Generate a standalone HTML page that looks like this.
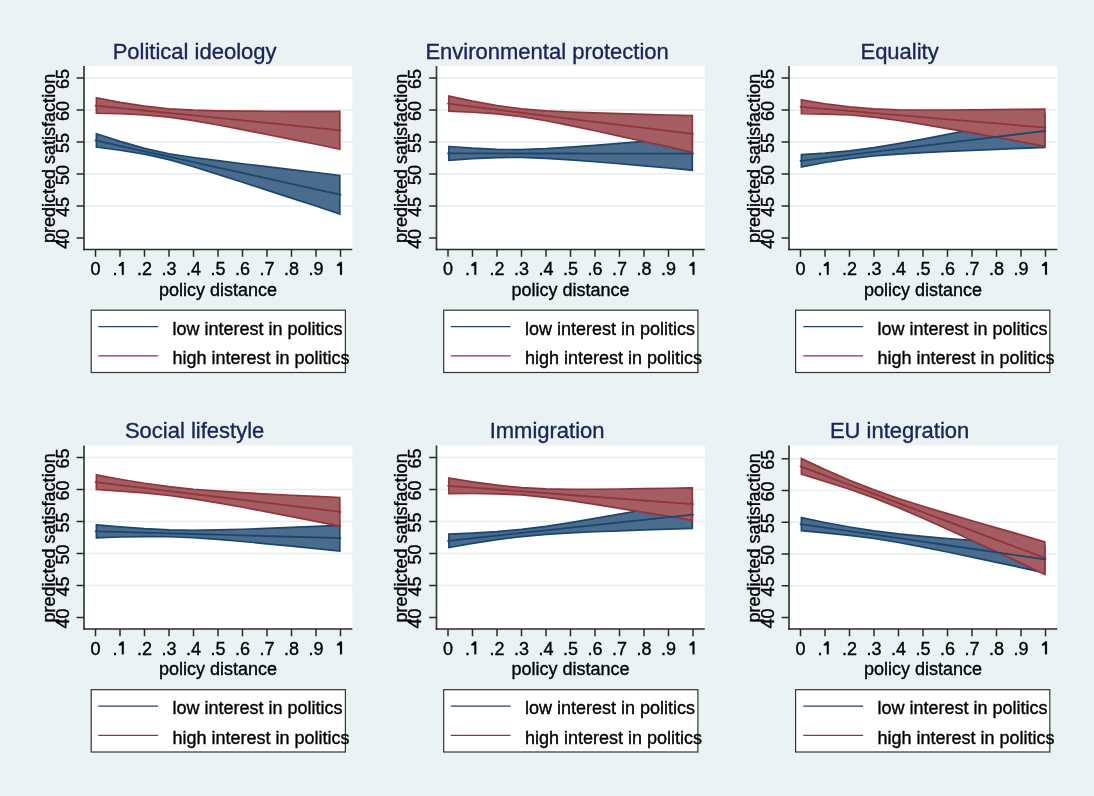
<!DOCTYPE html>
<html><head><meta charset="utf-8"><title>margins</title>
<style>
html,body{margin:0;padding:0;background:#EAF2F3;width:1094px;height:796px;overflow:hidden}
svg text{font-family:"Liberation Sans",sans-serif}
svg{will-change:transform}
.tk{font-size:18px;fill:#000;stroke:#000;stroke-width:0.35px}
.ax{font-size:18px;fill:#000;stroke:#000;stroke-width:0.35px}
.lg{font-size:18px;fill:#000;stroke:#000;stroke-width:0.35px}
.ti{font-size:22px;fill:#182559;stroke:#182559;stroke-width:0.35px}
</style></head><body>
<svg width="1094" height="796" viewBox="0 0 1094 796" style="display:block">
<rect x="0" y="0" width="1094" height="796" fill="#EAF2F3"/>
<g transform="translate(0,0)">
<rect x="84.0" y="66.0" width="268.3" height="183.5" fill="#FFFFFF"/>
<line x1="84.0" y1="206" x2="352.3" y2="206" stroke="#E6EEF0" stroke-width="1.6"/>
<line x1="84.0" y1="174" x2="352.3" y2="174" stroke="#E6EEF0" stroke-width="1.6"/>
<line x1="84.0" y1="142" x2="352.3" y2="142" stroke="#E6EEF0" stroke-width="1.6"/>
<line x1="84.0" y1="110" x2="352.3" y2="110" stroke="#E6EEF0" stroke-width="1.6"/>
<line x1="84.0" y1="78" x2="352.3" y2="78" stroke="#E6EEF0" stroke-width="1.6"/>
<polygon points="96.4,133.8 120,141.42 144.5,148.41 169,153.73 193.5,157.49 218,160.7 242.5,163.73 267,166.69 291.5,169.61 316,172.51 339.8,175.4 339.8,214 316,206.03 291.5,198.07 267,190.13 242.5,182.23 218,174.4 193.5,166.75 169,159.65 144.5,154.11 120,150.24 96.4,147" fill="#4B6C8C" stroke="#1A476F" stroke-width="1.7" stroke-linejoin="miter"/>
<polygon points="96.4,97.93 120,102.37 144.5,106.21 169,108.87 193.5,110.22 218,110.83 242.5,111.12 267,111.26 291.5,111.32 316,111.34 339.8,111.33 339.8,149.23 316,144.28 291.5,139.36 267,134.49 242.5,129.69 218,125.03 193.5,120.7 169,117.12 144.5,114.83 120,113.73 96.4,113.23" fill="#A45D62" stroke="#90353B" stroke-width="1.7" stroke-linejoin="miter"/>
<polyline points="95.5,140.4 120,145.83 144.5,151.26 169,156.69 193.5,162.12 218,167.55 242.5,172.98 267,178.41 291.5,183.84 316,189.27 340.5,194.7" fill="none" stroke="#1A476F" stroke-width="1.8" stroke-linecap="round"/>
<polyline points="95.5,105.58 120,108.05 144.5,110.52 169,112.99 193.5,115.46 218,117.93 242.5,120.4 267,122.87 291.5,125.34 316,127.81 340.5,130.28" fill="none" stroke="#90353B" stroke-width="1.8" stroke-linecap="round"/>
<line x1="84.0" y1="66.0" x2="84.0" y2="250.3" stroke="#3A3A3A" stroke-width="1.7"/>
<line x1="83.2" y1="249.5" x2="352.3" y2="249.5" stroke="#2A2A2A" stroke-width="1.7"/>
<line x1="76.6" y1="238" x2="84.0" y2="238" stroke="#2A2A2A" stroke-width="1.5"/>
<line x1="76.6" y1="206" x2="84.0" y2="206" stroke="#2A2A2A" stroke-width="1.5"/>
<line x1="76.6" y1="174" x2="84.0" y2="174" stroke="#2A2A2A" stroke-width="1.5"/>
<line x1="76.6" y1="142" x2="84.0" y2="142" stroke="#2A2A2A" stroke-width="1.5"/>
<line x1="76.6" y1="110" x2="84.0" y2="110" stroke="#2A2A2A" stroke-width="1.5"/>
<line x1="76.6" y1="78" x2="84.0" y2="78" stroke="#2A2A2A" stroke-width="1.5"/>
<line x1="95.5" y1="249.5" x2="95.5" y2="256.8" stroke="#2A2A2A" stroke-width="1.5"/>
<text x="95.5" y="275" text-anchor="middle" class="tk">0</text>
<line x1="120" y1="249.5" x2="120" y2="256.8" stroke="#2A2A2A" stroke-width="1.5"/>
<text x="112.5" y="275" class="tk">.</text>
<polygon points="121.85,274.8 121.85,265.7 119.1,266.05 118.7,265.5 118.75,264.75 121.65,262.3 122.15,262 123.73,262 123.73,274.8" fill="#000" stroke="#000" stroke-width="0.2"/>
<line x1="144.5" y1="249.5" x2="144.5" y2="256.8" stroke="#2A2A2A" stroke-width="1.5"/>
<text x="144.5" y="275" text-anchor="middle" class="tk">.2</text>
<line x1="169" y1="249.5" x2="169" y2="256.8" stroke="#2A2A2A" stroke-width="1.5"/>
<text x="169" y="275" text-anchor="middle" class="tk">.3</text>
<line x1="193.5" y1="249.5" x2="193.5" y2="256.8" stroke="#2A2A2A" stroke-width="1.5"/>
<text x="193.5" y="275" text-anchor="middle" class="tk">.4</text>
<line x1="218" y1="249.5" x2="218" y2="256.8" stroke="#2A2A2A" stroke-width="1.5"/>
<text x="218" y="275" text-anchor="middle" class="tk">.5</text>
<line x1="242.5" y1="249.5" x2="242.5" y2="256.8" stroke="#2A2A2A" stroke-width="1.5"/>
<text x="242.5" y="275" text-anchor="middle" class="tk">.6</text>
<line x1="267" y1="249.5" x2="267" y2="256.8" stroke="#2A2A2A" stroke-width="1.5"/>
<text x="267" y="275" text-anchor="middle" class="tk">.7</text>
<line x1="291.5" y1="249.5" x2="291.5" y2="256.8" stroke="#2A2A2A" stroke-width="1.5"/>
<text x="291.5" y="275" text-anchor="middle" class="tk">.8</text>
<line x1="316" y1="249.5" x2="316" y2="256.8" stroke="#2A2A2A" stroke-width="1.5"/>
<text x="316" y="275" text-anchor="middle" class="tk">.9</text>
<line x1="340.5" y1="249.5" x2="340.5" y2="256.8" stroke="#2A2A2A" stroke-width="1.5"/>
<polygon points="340.05,274.8 340.05,265.7 337.3,266.05 336.9,265.5 336.95,264.75 339.85,262.3 340.35,262 341.93,262 341.93,274.8" fill="#000" stroke="#000" stroke-width="0.2"/>
<text transform="translate(68.8,238.9) rotate(-90)" text-anchor="middle" class="tk">40</text>
<text transform="translate(68.8,206.9) rotate(-90)" text-anchor="middle" class="tk">45</text>
<text transform="translate(68.8,174.9) rotate(-90)" text-anchor="middle" class="tk">50</text>
<text transform="translate(68.8,142.9) rotate(-90)" text-anchor="middle" class="tk">55</text>
<text transform="translate(68.8,110.9) rotate(-90)" text-anchor="middle" class="tk">60</text>
<text transform="translate(68.8,78.9) rotate(-90)" text-anchor="middle" class="tk">65</text>
<text transform="translate(54.8,158.4) rotate(-90)" text-anchor="middle" class="ax">predicted satisfaction</text>
<text x="218" y="295.5" text-anchor="middle" class="ax">policy distance</text>
<text x="194.6" y="58.7" text-anchor="middle" class="ti">Political ideology</text>
<rect x="91.2" y="310.2" width="254.2" height="62.3" fill="#FFFFFF" stroke="#333" stroke-width="1.2"/>
<line x1="98.3" y1="326.6" x2="158.1" y2="326.6" stroke="#1A476F" stroke-width="1.4"/>
<line x1="98.3" y1="355.9" x2="158.1" y2="355.9" stroke="#90353B" stroke-width="1.4"/>
<text x="172.5" y="335" class="lg">low interest in politics</text>
<text x="172.5" y="364" class="lg">high interest in politics</text>
</g>
<g transform="translate(352.5,0)">
<rect x="84.0" y="66.0" width="268.3" height="183.5" fill="#FFFFFF"/>
<line x1="84.0" y1="206" x2="352.3" y2="206" stroke="#E6EEF0" stroke-width="1.6"/>
<line x1="84.0" y1="174" x2="352.3" y2="174" stroke="#E6EEF0" stroke-width="1.6"/>
<line x1="84.0" y1="142" x2="352.3" y2="142" stroke="#E6EEF0" stroke-width="1.6"/>
<line x1="84.0" y1="110" x2="352.3" y2="110" stroke="#E6EEF0" stroke-width="1.6"/>
<line x1="84.0" y1="78" x2="352.3" y2="78" stroke="#E6EEF0" stroke-width="1.6"/>
<polygon points="96.4,146.51 120,148.21 144.5,149.39 169,149.59 193.5,148.72 218,147.19 242.5,145.34 267,143.35 291.5,141.28 316,139.16 339.8,137.01 339.8,170.2 316,168.02 291.5,165.87 267,163.77 242.5,161.74 218,159.86 193.5,158.29 169,157.39 144.5,157.56 120,158.7 96.4,160.36" fill="#4B6C8C" stroke="#1A476F" stroke-width="1.7" stroke-linejoin="miter"/>
<polygon points="96.4,96.09 120,101.09 144.5,105.52 169,108.81 193.5,110.79 218,112.02 242.5,112.92 267,113.67 291.5,114.35 316,114.98 339.8,115.59 339.8,152.39 316,146.93 291.5,141.49 267,136.1 242.5,130.79 218,125.62 193.5,120.77 169,116.69 144.5,113.91 120,112.27 96.4,111.19" fill="#A45D62" stroke="#90353B" stroke-width="1.7" stroke-linejoin="miter"/>
<polyline points="95.5,153.44 120,153.46 144.5,153.47 169,153.49 193.5,153.51 218,153.52 242.5,153.54 267,153.56 291.5,153.57 316,153.59 340.5,153.61" fill="none" stroke="#1A476F" stroke-width="1.8" stroke-linecap="round"/>
<polyline points="95.5,103.64 120,106.68 144.5,109.71 169,112.75 193.5,115.78 218,118.82 242.5,121.85 267,124.89 291.5,127.92 316,130.96 340.5,133.99" fill="none" stroke="#90353B" stroke-width="1.8" stroke-linecap="round"/>
<line x1="84.0" y1="66.0" x2="84.0" y2="250.3" stroke="#3A3A3A" stroke-width="1.7"/>
<line x1="83.2" y1="249.5" x2="352.3" y2="249.5" stroke="#2A2A2A" stroke-width="1.7"/>
<line x1="76.6" y1="238" x2="84.0" y2="238" stroke="#2A2A2A" stroke-width="1.5"/>
<line x1="76.6" y1="206" x2="84.0" y2="206" stroke="#2A2A2A" stroke-width="1.5"/>
<line x1="76.6" y1="174" x2="84.0" y2="174" stroke="#2A2A2A" stroke-width="1.5"/>
<line x1="76.6" y1="142" x2="84.0" y2="142" stroke="#2A2A2A" stroke-width="1.5"/>
<line x1="76.6" y1="110" x2="84.0" y2="110" stroke="#2A2A2A" stroke-width="1.5"/>
<line x1="76.6" y1="78" x2="84.0" y2="78" stroke="#2A2A2A" stroke-width="1.5"/>
<line x1="95.5" y1="249.5" x2="95.5" y2="256.8" stroke="#2A2A2A" stroke-width="1.5"/>
<text x="95.5" y="275" text-anchor="middle" class="tk">0</text>
<line x1="120" y1="249.5" x2="120" y2="256.8" stroke="#2A2A2A" stroke-width="1.5"/>
<text x="112.5" y="275" class="tk">.</text>
<polygon points="121.85,274.8 121.85,265.7 119.1,266.05 118.7,265.5 118.75,264.75 121.65,262.3 122.15,262 123.73,262 123.73,274.8" fill="#000" stroke="#000" stroke-width="0.2"/>
<line x1="144.5" y1="249.5" x2="144.5" y2="256.8" stroke="#2A2A2A" stroke-width="1.5"/>
<text x="144.5" y="275" text-anchor="middle" class="tk">.2</text>
<line x1="169" y1="249.5" x2="169" y2="256.8" stroke="#2A2A2A" stroke-width="1.5"/>
<text x="169" y="275" text-anchor="middle" class="tk">.3</text>
<line x1="193.5" y1="249.5" x2="193.5" y2="256.8" stroke="#2A2A2A" stroke-width="1.5"/>
<text x="193.5" y="275" text-anchor="middle" class="tk">.4</text>
<line x1="218" y1="249.5" x2="218" y2="256.8" stroke="#2A2A2A" stroke-width="1.5"/>
<text x="218" y="275" text-anchor="middle" class="tk">.5</text>
<line x1="242.5" y1="249.5" x2="242.5" y2="256.8" stroke="#2A2A2A" stroke-width="1.5"/>
<text x="242.5" y="275" text-anchor="middle" class="tk">.6</text>
<line x1="267" y1="249.5" x2="267" y2="256.8" stroke="#2A2A2A" stroke-width="1.5"/>
<text x="267" y="275" text-anchor="middle" class="tk">.7</text>
<line x1="291.5" y1="249.5" x2="291.5" y2="256.8" stroke="#2A2A2A" stroke-width="1.5"/>
<text x="291.5" y="275" text-anchor="middle" class="tk">.8</text>
<line x1="316" y1="249.5" x2="316" y2="256.8" stroke="#2A2A2A" stroke-width="1.5"/>
<text x="316" y="275" text-anchor="middle" class="tk">.9</text>
<line x1="340.5" y1="249.5" x2="340.5" y2="256.8" stroke="#2A2A2A" stroke-width="1.5"/>
<polygon points="340.05,274.8 340.05,265.7 337.3,266.05 336.9,265.5 336.95,264.75 339.85,262.3 340.35,262 341.93,262 341.93,274.8" fill="#000" stroke="#000" stroke-width="0.2"/>
<text transform="translate(68.8,238.9) rotate(-90)" text-anchor="middle" class="tk">40</text>
<text transform="translate(68.8,206.9) rotate(-90)" text-anchor="middle" class="tk">45</text>
<text transform="translate(68.8,174.9) rotate(-90)" text-anchor="middle" class="tk">50</text>
<text transform="translate(68.8,142.9) rotate(-90)" text-anchor="middle" class="tk">55</text>
<text transform="translate(68.8,110.9) rotate(-90)" text-anchor="middle" class="tk">60</text>
<text transform="translate(68.8,78.9) rotate(-90)" text-anchor="middle" class="tk">65</text>
<text transform="translate(54.8,158.4) rotate(-90)" text-anchor="middle" class="ax">predicted satisfaction</text>
<text x="218" y="295.5" text-anchor="middle" class="ax">policy distance</text>
<text x="194.6" y="58.7" text-anchor="middle" class="ti">Environmental protection</text>
<rect x="91.2" y="310.2" width="254.2" height="62.3" fill="#FFFFFF" stroke="#333" stroke-width="1.2"/>
<line x1="98.3" y1="326.6" x2="158.1" y2="326.6" stroke="#1A476F" stroke-width="1.4"/>
<line x1="98.3" y1="355.9" x2="158.1" y2="355.9" stroke="#90353B" stroke-width="1.4"/>
<text x="172.5" y="335" class="lg">low interest in politics</text>
<text x="172.5" y="364" class="lg">high interest in politics</text>
</g>
<g transform="translate(705,0)">
<rect x="84.0" y="66.0" width="268.3" height="183.5" fill="#FFFFFF"/>
<line x1="84.0" y1="206" x2="352.3" y2="206" stroke="#E6EEF0" stroke-width="1.6"/>
<line x1="84.0" y1="174" x2="352.3" y2="174" stroke="#E6EEF0" stroke-width="1.6"/>
<line x1="84.0" y1="142" x2="352.3" y2="142" stroke="#E6EEF0" stroke-width="1.6"/>
<line x1="84.0" y1="110" x2="352.3" y2="110" stroke="#E6EEF0" stroke-width="1.6"/>
<line x1="84.0" y1="78" x2="352.3" y2="78" stroke="#E6EEF0" stroke-width="1.6"/>
<polygon points="96.4,154.7 120,153.11 144.5,150.89 169,147.7 193.5,143.65 218,139.1 242.5,134.32 267,129.41 291.5,124.44 316,119.44 339.8,114.4 339.8,147.4 316,148.34 291.5,149.32 267,150.33 242.5,151.4 218,152.6 193.5,154.03 169,155.96 144.5,158.75 120,162.51 96.4,166.9" fill="#4B6C8C" stroke="#1A476F" stroke-width="1.7" stroke-linejoin="miter"/>
<polygon points="96.4,99.84 120,103.73 144.5,106.94 169,108.94 193.5,109.78 218,110.02 242.5,109.98 267,109.82 291.5,109.6 316,109.33 339.8,109.04 339.8,146.24 316,141.78 291.5,137.35 267,132.95 242.5,128.62 218,124.42 193.5,120.48 169,117.15 144.5,114.99 120,114.03 96.4,113.74" fill="#A45D62" stroke="#90353B" stroke-width="1.7" stroke-linejoin="miter"/>
<polyline points="95.5,160.8 120,157.81 144.5,154.82 169,151.83 193.5,148.84 218,145.85 242.5,142.86 267,139.87 291.5,136.88 316,133.89 340.5,130.9" fill="none" stroke="#1A476F" stroke-width="1.8" stroke-linecap="round"/>
<polyline points="95.5,106.79 120,108.88 144.5,110.96 169,113.05 193.5,115.13 218,117.22 242.5,119.3 267,121.39 291.5,123.47 316,125.56 340.5,127.64" fill="none" stroke="#90353B" stroke-width="1.8" stroke-linecap="round"/>
<line x1="84.0" y1="66.0" x2="84.0" y2="250.3" stroke="#3A3A3A" stroke-width="1.7"/>
<line x1="83.2" y1="249.5" x2="352.3" y2="249.5" stroke="#2A2A2A" stroke-width="1.7"/>
<line x1="76.6" y1="238" x2="84.0" y2="238" stroke="#2A2A2A" stroke-width="1.5"/>
<line x1="76.6" y1="206" x2="84.0" y2="206" stroke="#2A2A2A" stroke-width="1.5"/>
<line x1="76.6" y1="174" x2="84.0" y2="174" stroke="#2A2A2A" stroke-width="1.5"/>
<line x1="76.6" y1="142" x2="84.0" y2="142" stroke="#2A2A2A" stroke-width="1.5"/>
<line x1="76.6" y1="110" x2="84.0" y2="110" stroke="#2A2A2A" stroke-width="1.5"/>
<line x1="76.6" y1="78" x2="84.0" y2="78" stroke="#2A2A2A" stroke-width="1.5"/>
<line x1="95.5" y1="249.5" x2="95.5" y2="256.8" stroke="#2A2A2A" stroke-width="1.5"/>
<text x="95.5" y="275" text-anchor="middle" class="tk">0</text>
<line x1="120" y1="249.5" x2="120" y2="256.8" stroke="#2A2A2A" stroke-width="1.5"/>
<text x="112.5" y="275" class="tk">.</text>
<polygon points="121.85,274.8 121.85,265.7 119.1,266.05 118.7,265.5 118.75,264.75 121.65,262.3 122.15,262 123.73,262 123.73,274.8" fill="#000" stroke="#000" stroke-width="0.2"/>
<line x1="144.5" y1="249.5" x2="144.5" y2="256.8" stroke="#2A2A2A" stroke-width="1.5"/>
<text x="144.5" y="275" text-anchor="middle" class="tk">.2</text>
<line x1="169" y1="249.5" x2="169" y2="256.8" stroke="#2A2A2A" stroke-width="1.5"/>
<text x="169" y="275" text-anchor="middle" class="tk">.3</text>
<line x1="193.5" y1="249.5" x2="193.5" y2="256.8" stroke="#2A2A2A" stroke-width="1.5"/>
<text x="193.5" y="275" text-anchor="middle" class="tk">.4</text>
<line x1="218" y1="249.5" x2="218" y2="256.8" stroke="#2A2A2A" stroke-width="1.5"/>
<text x="218" y="275" text-anchor="middle" class="tk">.5</text>
<line x1="242.5" y1="249.5" x2="242.5" y2="256.8" stroke="#2A2A2A" stroke-width="1.5"/>
<text x="242.5" y="275" text-anchor="middle" class="tk">.6</text>
<line x1="267" y1="249.5" x2="267" y2="256.8" stroke="#2A2A2A" stroke-width="1.5"/>
<text x="267" y="275" text-anchor="middle" class="tk">.7</text>
<line x1="291.5" y1="249.5" x2="291.5" y2="256.8" stroke="#2A2A2A" stroke-width="1.5"/>
<text x="291.5" y="275" text-anchor="middle" class="tk">.8</text>
<line x1="316" y1="249.5" x2="316" y2="256.8" stroke="#2A2A2A" stroke-width="1.5"/>
<text x="316" y="275" text-anchor="middle" class="tk">.9</text>
<line x1="340.5" y1="249.5" x2="340.5" y2="256.8" stroke="#2A2A2A" stroke-width="1.5"/>
<polygon points="340.05,274.8 340.05,265.7 337.3,266.05 336.9,265.5 336.95,264.75 339.85,262.3 340.35,262 341.93,262 341.93,274.8" fill="#000" stroke="#000" stroke-width="0.2"/>
<text transform="translate(68.8,238.9) rotate(-90)" text-anchor="middle" class="tk">40</text>
<text transform="translate(68.8,206.9) rotate(-90)" text-anchor="middle" class="tk">45</text>
<text transform="translate(68.8,174.9) rotate(-90)" text-anchor="middle" class="tk">50</text>
<text transform="translate(68.8,142.9) rotate(-90)" text-anchor="middle" class="tk">55</text>
<text transform="translate(68.8,110.9) rotate(-90)" text-anchor="middle" class="tk">60</text>
<text transform="translate(68.8,78.9) rotate(-90)" text-anchor="middle" class="tk">65</text>
<text transform="translate(54.8,158.4) rotate(-90)" text-anchor="middle" class="ax">predicted satisfaction</text>
<text x="218" y="295.5" text-anchor="middle" class="ax">policy distance</text>
<text x="194.6" y="58.7" text-anchor="middle" class="ti">Equality</text>
<rect x="90.60000000000001" y="310.2" width="254.2" height="62.3" fill="#FFFFFF" stroke="#333" stroke-width="1.2"/>
<line x1="98.3" y1="326.6" x2="158.1" y2="326.6" stroke="#1A476F" stroke-width="1.4"/>
<line x1="98.3" y1="355.9" x2="158.1" y2="355.9" stroke="#90353B" stroke-width="1.4"/>
<text x="172.5" y="335" class="lg">low interest in politics</text>
<text x="172.5" y="364" class="lg">high interest in politics</text>
</g>
<g transform="translate(0,379.5)">
<rect x="84.0" y="66.0" width="268.3" height="183.5" fill="#FFFFFF"/>
<line x1="84.0" y1="206" x2="352.3" y2="206" stroke="#E6EEF0" stroke-width="1.6"/>
<line x1="84.0" y1="174" x2="352.3" y2="174" stroke="#E6EEF0" stroke-width="1.6"/>
<line x1="84.0" y1="142" x2="352.3" y2="142" stroke="#E6EEF0" stroke-width="1.6"/>
<line x1="84.0" y1="110" x2="352.3" y2="110" stroke="#E6EEF0" stroke-width="1.6"/>
<line x1="84.0" y1="78" x2="352.3" y2="78" stroke="#E6EEF0" stroke-width="1.6"/>
<polygon points="96.4,145.28 120,147.4 144.5,149.21 169,150.42 193.5,150.78 218,150.45 242.5,149.75 267,148.86 291.5,147.88 316,146.84 339.8,145.78 339.8,171.48 316,169.04 291.5,166.63 267,164.28 242.5,162.02 218,159.95 193.5,158.25 169,157.24 144.5,157.08 120,157.52 96.4,158.28" fill="#4B6C8C" stroke="#1A476F" stroke-width="1.7" stroke-linejoin="miter"/>
<polygon points="96.4,95.37 120,99.76 144.5,103.77 169,107.14 193.5,109.73 218,111.66 242.5,113.2 267,114.53 291.5,115.74 316,116.88 339.8,117.97 339.8,146.67 316,141.84 291.5,137.05 267,132.34 242.5,127.74 218,123.36 193.5,119.37 169,116.02 144.5,113.47 120,111.55 96.4,110.02" fill="#A45D62" stroke="#90353B" stroke-width="1.7" stroke-linejoin="miter"/>
<polyline points="95.5,151.78 120,152.46 144.5,153.15 169,153.83 193.5,154.52 218,155.2 242.5,155.89 267,156.57 291.5,157.26 316,157.94 340.5,158.63" fill="none" stroke="#1A476F" stroke-width="1.8" stroke-linecap="round"/>
<polyline points="95.5,102.7 120,105.66 144.5,108.62 169,111.58 193.5,114.55 218,117.51 242.5,120.47 267,123.43 291.5,126.4 316,129.36 340.5,132.32" fill="none" stroke="#90353B" stroke-width="1.8" stroke-linecap="round"/>
<line x1="84.0" y1="66.0" x2="84.0" y2="250.3" stroke="#3A3A3A" stroke-width="1.7"/>
<line x1="83.2" y1="249.5" x2="352.3" y2="249.5" stroke="#2A2A2A" stroke-width="1.7"/>
<line x1="76.6" y1="238" x2="84.0" y2="238" stroke="#2A2A2A" stroke-width="1.5"/>
<line x1="76.6" y1="206" x2="84.0" y2="206" stroke="#2A2A2A" stroke-width="1.5"/>
<line x1="76.6" y1="174" x2="84.0" y2="174" stroke="#2A2A2A" stroke-width="1.5"/>
<line x1="76.6" y1="142" x2="84.0" y2="142" stroke="#2A2A2A" stroke-width="1.5"/>
<line x1="76.6" y1="110" x2="84.0" y2="110" stroke="#2A2A2A" stroke-width="1.5"/>
<line x1="76.6" y1="78" x2="84.0" y2="78" stroke="#2A2A2A" stroke-width="1.5"/>
<line x1="95.5" y1="249.5" x2="95.5" y2="256.8" stroke="#2A2A2A" stroke-width="1.5"/>
<text x="95.5" y="275" text-anchor="middle" class="tk">0</text>
<line x1="120" y1="249.5" x2="120" y2="256.8" stroke="#2A2A2A" stroke-width="1.5"/>
<text x="112.5" y="275" class="tk">.</text>
<polygon points="121.85,274.8 121.85,265.7 119.1,266.05 118.7,265.5 118.75,264.75 121.65,262.3 122.15,262 123.73,262 123.73,274.8" fill="#000" stroke="#000" stroke-width="0.2"/>
<line x1="144.5" y1="249.5" x2="144.5" y2="256.8" stroke="#2A2A2A" stroke-width="1.5"/>
<text x="144.5" y="275" text-anchor="middle" class="tk">.2</text>
<line x1="169" y1="249.5" x2="169" y2="256.8" stroke="#2A2A2A" stroke-width="1.5"/>
<text x="169" y="275" text-anchor="middle" class="tk">.3</text>
<line x1="193.5" y1="249.5" x2="193.5" y2="256.8" stroke="#2A2A2A" stroke-width="1.5"/>
<text x="193.5" y="275" text-anchor="middle" class="tk">.4</text>
<line x1="218" y1="249.5" x2="218" y2="256.8" stroke="#2A2A2A" stroke-width="1.5"/>
<text x="218" y="275" text-anchor="middle" class="tk">.5</text>
<line x1="242.5" y1="249.5" x2="242.5" y2="256.8" stroke="#2A2A2A" stroke-width="1.5"/>
<text x="242.5" y="275" text-anchor="middle" class="tk">.6</text>
<line x1="267" y1="249.5" x2="267" y2="256.8" stroke="#2A2A2A" stroke-width="1.5"/>
<text x="267" y="275" text-anchor="middle" class="tk">.7</text>
<line x1="291.5" y1="249.5" x2="291.5" y2="256.8" stroke="#2A2A2A" stroke-width="1.5"/>
<text x="291.5" y="275" text-anchor="middle" class="tk">.8</text>
<line x1="316" y1="249.5" x2="316" y2="256.8" stroke="#2A2A2A" stroke-width="1.5"/>
<text x="316" y="275" text-anchor="middle" class="tk">.9</text>
<line x1="340.5" y1="249.5" x2="340.5" y2="256.8" stroke="#2A2A2A" stroke-width="1.5"/>
<polygon points="340.05,274.8 340.05,265.7 337.3,266.05 336.9,265.5 336.95,264.75 339.85,262.3 340.35,262 341.93,262 341.93,274.8" fill="#000" stroke="#000" stroke-width="0.2"/>
<text transform="translate(68.8,238.9) rotate(-90)" text-anchor="middle" class="tk">40</text>
<text transform="translate(68.8,206.9) rotate(-90)" text-anchor="middle" class="tk">45</text>
<text transform="translate(68.8,174.9) rotate(-90)" text-anchor="middle" class="tk">50</text>
<text transform="translate(68.8,142.9) rotate(-90)" text-anchor="middle" class="tk">55</text>
<text transform="translate(68.8,110.9) rotate(-90)" text-anchor="middle" class="tk">60</text>
<text transform="translate(68.8,78.9) rotate(-90)" text-anchor="middle" class="tk">65</text>
<text transform="translate(54.8,158.4) rotate(-90)" text-anchor="middle" class="ax">predicted satisfaction</text>
<text x="218" y="295.5" text-anchor="middle" class="ax">policy distance</text>
<text x="194.6" y="58.7" text-anchor="middle" class="ti">Social lifestyle</text>
<rect x="91.2" y="310.2" width="254.2" height="62.3" fill="#FFFFFF" stroke="#333" stroke-width="1.2"/>
<line x1="98.3" y1="326.6" x2="158.1" y2="326.6" stroke="#1A476F" stroke-width="1.4"/>
<line x1="98.3" y1="355.9" x2="158.1" y2="355.9" stroke="#90353B" stroke-width="1.4"/>
<text x="172.5" y="334" class="lg">low interest in politics</text>
<text x="172.5" y="364" class="lg">high interest in politics</text>
</g>
<g transform="translate(352.5,379.5)">
<rect x="84.0" y="66.0" width="268.3" height="183.5" fill="#FFFFFF"/>
<line x1="84.0" y1="206" x2="352.3" y2="206" stroke="#E6EEF0" stroke-width="1.6"/>
<line x1="84.0" y1="174" x2="352.3" y2="174" stroke="#E6EEF0" stroke-width="1.6"/>
<line x1="84.0" y1="142" x2="352.3" y2="142" stroke="#E6EEF0" stroke-width="1.6"/>
<line x1="84.0" y1="110" x2="352.3" y2="110" stroke="#E6EEF0" stroke-width="1.6"/>
<line x1="84.0" y1="78" x2="352.3" y2="78" stroke="#E6EEF0" stroke-width="1.6"/>
<polygon points="96.4,154.67 120,153.55 144.5,152.07 169,149.9 193.5,146.83 218,143.07 242.5,138.93 267,134.62 291.5,130.22 316,125.76 339.8,121.27 339.8,148.87 316,149.64 291.5,150.44 267,151.29 242.5,152.24 218,153.37 193.5,154.86 169,157.05 144.5,160.15 120,163.93 96.4,168.07" fill="#4B6C8C" stroke="#1A476F" stroke-width="1.7" stroke-linejoin="miter"/>
<polygon points="96.4,98.56 120,102.31 144.5,105.66 169,108.17 193.5,109.42 218,109.78 242.5,109.73 267,109.48 291.5,109.15 316,108.77 339.8,108.36 339.8,140.96 316,136.88 291.5,132.82 267,128.82 242.5,124.91 218,121.18 193.5,117.87 169,115.46 144.5,114.29 120,113.98 96.4,114.06" fill="#A45D62" stroke="#90353B" stroke-width="1.7" stroke-linejoin="miter"/>
<polyline points="95.5,161.37 120,158.74 144.5,156.11 169,153.48 193.5,150.85 218,148.22 242.5,145.59 267,142.96 291.5,140.33 316,137.7 340.5,135.07" fill="none" stroke="#1A476F" stroke-width="1.8" stroke-linecap="round"/>
<polyline points="95.5,106.31 120,108.14 144.5,109.98 169,111.81 193.5,113.65 218,115.48 242.5,117.32 267,119.15 291.5,120.99 316,122.82 340.5,124.66" fill="none" stroke="#90353B" stroke-width="1.8" stroke-linecap="round"/>
<line x1="84.0" y1="66.0" x2="84.0" y2="250.3" stroke="#3A3A3A" stroke-width="1.7"/>
<line x1="83.2" y1="249.5" x2="352.3" y2="249.5" stroke="#2A2A2A" stroke-width="1.7"/>
<line x1="76.6" y1="238" x2="84.0" y2="238" stroke="#2A2A2A" stroke-width="1.5"/>
<line x1="76.6" y1="206" x2="84.0" y2="206" stroke="#2A2A2A" stroke-width="1.5"/>
<line x1="76.6" y1="174" x2="84.0" y2="174" stroke="#2A2A2A" stroke-width="1.5"/>
<line x1="76.6" y1="142" x2="84.0" y2="142" stroke="#2A2A2A" stroke-width="1.5"/>
<line x1="76.6" y1="110" x2="84.0" y2="110" stroke="#2A2A2A" stroke-width="1.5"/>
<line x1="76.6" y1="78" x2="84.0" y2="78" stroke="#2A2A2A" stroke-width="1.5"/>
<line x1="95.5" y1="249.5" x2="95.5" y2="256.8" stroke="#2A2A2A" stroke-width="1.5"/>
<text x="95.5" y="275" text-anchor="middle" class="tk">0</text>
<line x1="120" y1="249.5" x2="120" y2="256.8" stroke="#2A2A2A" stroke-width="1.5"/>
<text x="112.5" y="275" class="tk">.</text>
<polygon points="121.85,274.8 121.85,265.7 119.1,266.05 118.7,265.5 118.75,264.75 121.65,262.3 122.15,262 123.73,262 123.73,274.8" fill="#000" stroke="#000" stroke-width="0.2"/>
<line x1="144.5" y1="249.5" x2="144.5" y2="256.8" stroke="#2A2A2A" stroke-width="1.5"/>
<text x="144.5" y="275" text-anchor="middle" class="tk">.2</text>
<line x1="169" y1="249.5" x2="169" y2="256.8" stroke="#2A2A2A" stroke-width="1.5"/>
<text x="169" y="275" text-anchor="middle" class="tk">.3</text>
<line x1="193.5" y1="249.5" x2="193.5" y2="256.8" stroke="#2A2A2A" stroke-width="1.5"/>
<text x="193.5" y="275" text-anchor="middle" class="tk">.4</text>
<line x1="218" y1="249.5" x2="218" y2="256.8" stroke="#2A2A2A" stroke-width="1.5"/>
<text x="218" y="275" text-anchor="middle" class="tk">.5</text>
<line x1="242.5" y1="249.5" x2="242.5" y2="256.8" stroke="#2A2A2A" stroke-width="1.5"/>
<text x="242.5" y="275" text-anchor="middle" class="tk">.6</text>
<line x1="267" y1="249.5" x2="267" y2="256.8" stroke="#2A2A2A" stroke-width="1.5"/>
<text x="267" y="275" text-anchor="middle" class="tk">.7</text>
<line x1="291.5" y1="249.5" x2="291.5" y2="256.8" stroke="#2A2A2A" stroke-width="1.5"/>
<text x="291.5" y="275" text-anchor="middle" class="tk">.8</text>
<line x1="316" y1="249.5" x2="316" y2="256.8" stroke="#2A2A2A" stroke-width="1.5"/>
<text x="316" y="275" text-anchor="middle" class="tk">.9</text>
<line x1="340.5" y1="249.5" x2="340.5" y2="256.8" stroke="#2A2A2A" stroke-width="1.5"/>
<polygon points="340.05,274.8 340.05,265.7 337.3,266.05 336.9,265.5 336.95,264.75 339.85,262.3 340.35,262 341.93,262 341.93,274.8" fill="#000" stroke="#000" stroke-width="0.2"/>
<text transform="translate(68.8,238.9) rotate(-90)" text-anchor="middle" class="tk">40</text>
<text transform="translate(68.8,206.9) rotate(-90)" text-anchor="middle" class="tk">45</text>
<text transform="translate(68.8,174.9) rotate(-90)" text-anchor="middle" class="tk">50</text>
<text transform="translate(68.8,142.9) rotate(-90)" text-anchor="middle" class="tk">55</text>
<text transform="translate(68.8,110.9) rotate(-90)" text-anchor="middle" class="tk">60</text>
<text transform="translate(68.8,78.9) rotate(-90)" text-anchor="middle" class="tk">65</text>
<text transform="translate(54.8,158.4) rotate(-90)" text-anchor="middle" class="ax">predicted satisfaction</text>
<text x="218" y="295.5" text-anchor="middle" class="ax">policy distance</text>
<text x="194.6" y="58.7" text-anchor="middle" class="ti">Immigration</text>
<rect x="91.2" y="310.2" width="254.2" height="62.3" fill="#FFFFFF" stroke="#333" stroke-width="1.2"/>
<line x1="98.3" y1="326.6" x2="158.1" y2="326.6" stroke="#1A476F" stroke-width="1.4"/>
<line x1="98.3" y1="355.9" x2="158.1" y2="355.9" stroke="#90353B" stroke-width="1.4"/>
<text x="172.5" y="334" class="lg">low interest in politics</text>
<text x="172.5" y="364" class="lg">high interest in politics</text>
</g>
<g transform="translate(705,379.5)">
<rect x="84.0" y="66.0" width="268.3" height="183.5" fill="#FFFFFF"/>
<line x1="84.0" y1="206.25" x2="352.3" y2="206.25" stroke="#E6EEF0" stroke-width="1.6"/>
<line x1="84.0" y1="174.5" x2="352.3" y2="174.5" stroke="#E6EEF0" stroke-width="1.6"/>
<line x1="84.0" y1="142.75" x2="352.3" y2="142.75" stroke="#E6EEF0" stroke-width="1.6"/>
<line x1="84.0" y1="111" x2="352.3" y2="111" stroke="#E6EEF0" stroke-width="1.6"/>
<line x1="84.0" y1="79.25" x2="352.3" y2="79.25" stroke="#E6EEF0" stroke-width="1.6"/>
<polygon points="96.4,138.11 120,143.01 144.5,147.52 169,151.39 193.5,154.44 218,156.88 242.5,158.98 267,160.9 291.5,162.72 316,164.48 339.8,166.21 339.8,193.41 316,188.11 291.5,182.84 267,177.63 242.5,172.52 218,167.58 193.5,162.99 169,159.02 144.5,155.85 120,153.34 96.4,151.21" fill="#4B6C8C" stroke="#1A476F" stroke-width="1.7" stroke-linejoin="miter"/>
<polygon points="96.4,79.12 120,90.11 144.5,100.68 169,110.41 193.5,119 218,126.77 242.5,134.12 267,141.28 291.5,148.34 316,155.35 339.8,162.32 339.8,195.02 316,183.63 291.5,172.27 267,160.97 242.5,149.77 218,138.77 193.5,128.17 169,118.4 144.5,109.77 120,101.98 96.4,94.62" fill="#A45D62" stroke="#90353B" stroke-width="1.7" stroke-linejoin="miter"/>
<polyline points="95.5,144.66 120,148.17 144.5,151.69 169,155.2 193.5,158.72 218,162.23 242.5,165.75 267,169.26 291.5,172.78 316,176.29 340.5,179.81" fill="none" stroke="#1A476F" stroke-width="1.8" stroke-linecap="round"/>
<polyline points="95.5,86.87 120,96.05 144.5,105.23 169,114.41 193.5,123.59 218,132.77 242.5,141.95 267,151.13 291.5,160.31 316,169.49 340.5,178.67" fill="none" stroke="#90353B" stroke-width="1.8" stroke-linecap="round"/>
<line x1="84.0" y1="66.0" x2="84.0" y2="250.3" stroke="#3A3A3A" stroke-width="1.7"/>
<line x1="83.2" y1="249.5" x2="352.3" y2="249.5" stroke="#2A2A2A" stroke-width="1.7"/>
<line x1="76.6" y1="238" x2="84.0" y2="238" stroke="#2A2A2A" stroke-width="1.5"/>
<line x1="76.6" y1="206.25" x2="84.0" y2="206.25" stroke="#2A2A2A" stroke-width="1.5"/>
<line x1="76.6" y1="174.5" x2="84.0" y2="174.5" stroke="#2A2A2A" stroke-width="1.5"/>
<line x1="76.6" y1="142.75" x2="84.0" y2="142.75" stroke="#2A2A2A" stroke-width="1.5"/>
<line x1="76.6" y1="111" x2="84.0" y2="111" stroke="#2A2A2A" stroke-width="1.5"/>
<line x1="76.6" y1="79.25" x2="84.0" y2="79.25" stroke="#2A2A2A" stroke-width="1.5"/>
<line x1="95.5" y1="249.5" x2="95.5" y2="256.8" stroke="#2A2A2A" stroke-width="1.5"/>
<text x="95.5" y="275" text-anchor="middle" class="tk">0</text>
<line x1="120" y1="249.5" x2="120" y2="256.8" stroke="#2A2A2A" stroke-width="1.5"/>
<text x="112.5" y="275" class="tk">.</text>
<polygon points="121.85,274.8 121.85,265.7 119.1,266.05 118.7,265.5 118.75,264.75 121.65,262.3 122.15,262 123.73,262 123.73,274.8" fill="#000" stroke="#000" stroke-width="0.2"/>
<line x1="144.5" y1="249.5" x2="144.5" y2="256.8" stroke="#2A2A2A" stroke-width="1.5"/>
<text x="144.5" y="275" text-anchor="middle" class="tk">.2</text>
<line x1="169" y1="249.5" x2="169" y2="256.8" stroke="#2A2A2A" stroke-width="1.5"/>
<text x="169" y="275" text-anchor="middle" class="tk">.3</text>
<line x1="193.5" y1="249.5" x2="193.5" y2="256.8" stroke="#2A2A2A" stroke-width="1.5"/>
<text x="193.5" y="275" text-anchor="middle" class="tk">.4</text>
<line x1="218" y1="249.5" x2="218" y2="256.8" stroke="#2A2A2A" stroke-width="1.5"/>
<text x="218" y="275" text-anchor="middle" class="tk">.5</text>
<line x1="242.5" y1="249.5" x2="242.5" y2="256.8" stroke="#2A2A2A" stroke-width="1.5"/>
<text x="242.5" y="275" text-anchor="middle" class="tk">.6</text>
<line x1="267" y1="249.5" x2="267" y2="256.8" stroke="#2A2A2A" stroke-width="1.5"/>
<text x="267" y="275" text-anchor="middle" class="tk">.7</text>
<line x1="291.5" y1="249.5" x2="291.5" y2="256.8" stroke="#2A2A2A" stroke-width="1.5"/>
<text x="291.5" y="275" text-anchor="middle" class="tk">.8</text>
<line x1="316" y1="249.5" x2="316" y2="256.8" stroke="#2A2A2A" stroke-width="1.5"/>
<text x="316" y="275" text-anchor="middle" class="tk">.9</text>
<line x1="340.5" y1="249.5" x2="340.5" y2="256.8" stroke="#2A2A2A" stroke-width="1.5"/>
<polygon points="340.05,274.8 340.05,265.7 337.3,266.05 336.9,265.5 336.95,264.75 339.85,262.3 340.35,262 341.93,262 341.93,274.8" fill="#000" stroke="#000" stroke-width="0.2"/>
<text transform="translate(68.8,238.9) rotate(-90)" text-anchor="middle" class="tk">40</text>
<text transform="translate(68.8,207.15) rotate(-90)" text-anchor="middle" class="tk">45</text>
<text transform="translate(68.8,175.4) rotate(-90)" text-anchor="middle" class="tk">50</text>
<text transform="translate(68.8,143.65) rotate(-90)" text-anchor="middle" class="tk">55</text>
<text transform="translate(68.8,111.9) rotate(-90)" text-anchor="middle" class="tk">60</text>
<text transform="translate(68.8,80.15) rotate(-90)" text-anchor="middle" class="tk">65</text>
<text transform="translate(54.8,158.4) rotate(-90)" text-anchor="middle" class="ax">predicted satisfaction</text>
<text x="218" y="295.5" text-anchor="middle" class="ax">policy distance</text>
<text x="194.6" y="58.7" text-anchor="middle" class="ti">EU integration</text>
<rect x="90.60000000000001" y="310.2" width="254.2" height="62.3" fill="#FFFFFF" stroke="#333" stroke-width="1.2"/>
<line x1="98.3" y1="326.6" x2="158.1" y2="326.6" stroke="#1A476F" stroke-width="1.4"/>
<line x1="98.3" y1="355.9" x2="158.1" y2="355.9" stroke="#90353B" stroke-width="1.4"/>
<text x="172.5" y="334" class="lg">low interest in politics</text>
<text x="172.5" y="364" class="lg">high interest in politics</text>
</g>
</svg>
</body></html>
